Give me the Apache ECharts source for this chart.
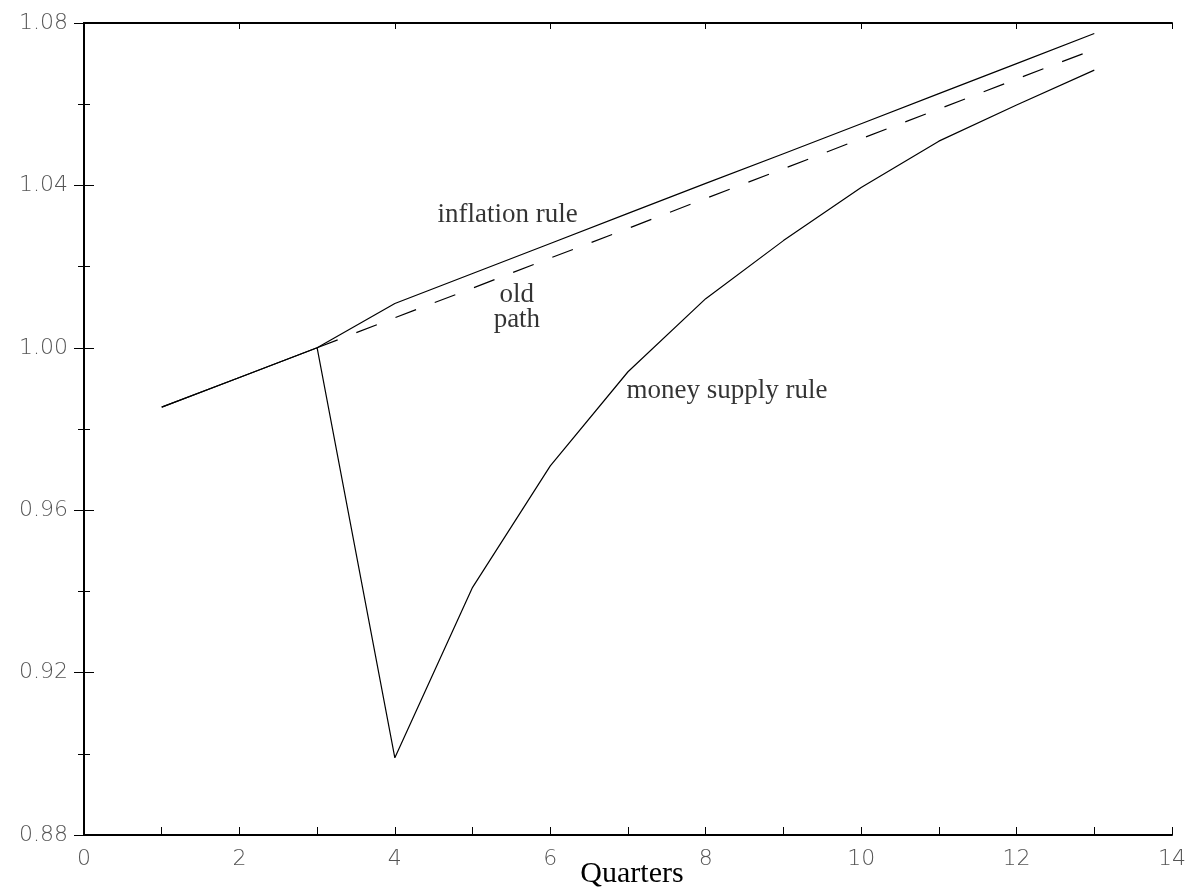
<!DOCTYPE html>
<html>
<head>
<meta charset="utf-8">
<script src="https://cdn.jsdelivr.net/npm/echarts@6/dist/echarts.min.js"></script>
<style>html,body{margin:0;padding:0;background:#fff}#c{width:1189px;height:892px}</style>
</head>
<body>
<div id="c"></div>
<script>
const quarters = [1, 2, 3, 4, 5, 6, 7, 8, 9, 10, 11, 12, 13];
const inflationRule = [0.9854, 0.9927, 1.000, 1.0109, 1.0183, 1.0257, 1.0331, 1.0405, 1.0478, 1.0552, 1.0626, 1.0700, 1.0774];
const moneySupplyRule = [0.9854, 0.9927, 1.000, 0.899, 0.941, 0.9709, 0.9941, 1.0121, 1.0264, 1.0395, 1.0509, 1.0598, 1.0684];
const oldPathQuarters = [3, 4, 5, 6, 7, 8, 9, 10, 11, 12, 13];
const oldPath = [1.000, 1.0074, 1.0147, 1.0221, 1.0294, 1.0368, 1.0441, 1.0515, 1.0588, 1.0662, 1.0735];
const xTicks = { min: 0, max: 14, interval: 2 };
const yTicks = { min: 0.88, max: 1.08, interval: 0.04 };
const annotations = [
  { text: 'inflation rule', x: 5.45, y: 1.0328, align: 'center' },
  { text: 'old', x: 5.57, y: 1.0130, align: 'center' },
  { text: 'path', x: 5.57, y: 1.0069, align: 'center' },
  { text: 'money supply rule', x: 6.98, y: 0.9894, align: 'left' }
];

const pairs = (xs, ys) => xs.map((x, i) => [x, ys[i]]);
const tickFont = { fontFamily: 'DejaVu Sans', fontWeight: 200, fontSize: 22, color: '#555' };
const serif = 'Liberation Serif';

const chart = echarts.init(document.getElementById('c'), null, { renderer: 'canvas' });
const axisLine = { show: true, lineStyle: { color: '#000', width: 2 } };
chart.setOption({
  animation: false,
  backgroundColor: '#fff',
  grid: { left: 84, right: 17, top: 23, bottom: 57, outerBoundsMode: 'none', containLabel: false },
  xAxis: [{
    type: 'value', min: xTicks.min, max: xTicks.max, interval: xTicks.interval,
    axisLine: axisLine,
    axisTick: { show: true, inside: true, length: 8, lineStyle: { color: '#000', width: 1 } },
    minorTick: { show: true, splitNumber: 2, length: 8, lineStyle: { color: '#000', width: 1 } },
    splitLine: { show: false },
    axisLabel: Object.assign({ margin: 13 }, tickFont),
    name: 'Quarters', nameLocation: 'middle', nameGap: 24, nameMoveOverlap: false,
    nameTextStyle: { fontFamily: serif, fontSize: 30, color: '#000', padding: [0, 0, 0, 8] }
  }, {
    type: 'value', position: 'top', min: xTicks.min, max: xTicks.max, interval: xTicks.interval,
    axisLine: axisLine,
    axisTick: { show: true, inside: true, length: 6, lineStyle: { color: '#000' } },
    axisLabel: { show: false }, splitLine: { show: false }
  }],
  yAxis: [{
    type: 'value', min: yTicks.min, max: yTicks.max, interval: yTicks.interval,
    axisLine: axisLine,
    axisTick: { show: true, inside: true, length: 10, lineStyle: { color: '#000' } },
    minorTick: { show: true, splitNumber: 2, length: 6, lineStyle: { color: '#000' } },
    splitLine: { show: false },
    axisLabel: Object.assign({ margin: 16, formatter: v => v.toFixed(2) }, tickFont)
  }, {
    type: 'value', position: 'right', min: yTicks.min, max: yTicks.max, interval: yTicks.interval,
    axisLine: axisLine,
    axisTick: { show: true, inside: true, length: 10, lineStyle: { color: '#000' } },
    minorTick: { show: true, splitNumber: 2, length: 6, lineStyle: { color: '#000' } },
    axisLabel: { show: false }, splitLine: { show: false }
  }],
  series: [
    { name: 'inflation rule', type: 'line', data: pairs(quarters, inflationRule), symbol: 'none',
      lineStyle: { color: '#000', width: 1.2 } },
    { name: 'money supply rule', type: 'line', data: pairs(quarters, moneySupplyRule), symbol: 'none',
      lineStyle: { color: '#000', width: 1.2 } },
    { name: 'old path', type: 'line', data: pairs(oldPathQuarters, oldPath), symbol: 'none',
      lineStyle: { color: '#000', width: 1.2, type: [22, 20] } },
    { name: 'labels', type: 'scatter', symbolSize: 0, silent: true,
      data: annotations.map(a => ({ value: [a.x, a.y], label: { show: true, formatter: a.text, align: a.align, color: '#000' } })),
      label: { show: true, position: 'inside', fontFamily: serif, fontSize: 27, color: '#000' } }
  ]
});
</script>
</body>
</html>
